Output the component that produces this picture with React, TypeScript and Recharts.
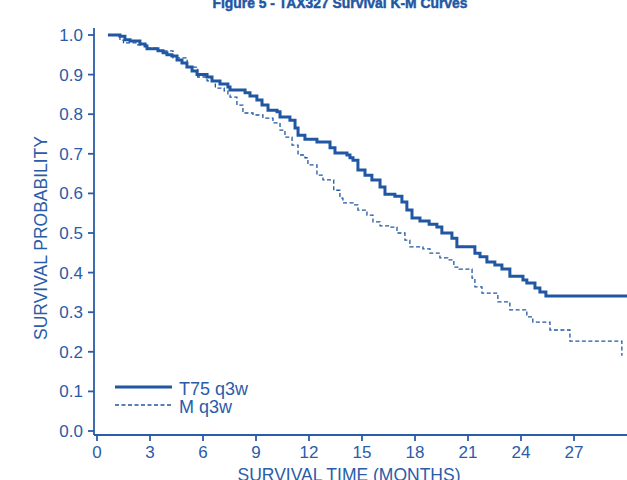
import React from 'react';
import { LineChart, Line, XAxis, YAxis, Legend, Label } from 'recharts';

// Kaplan-Meier estimates (months, survival probability)
const t75Times = [0.62, 1.3, 1.58, 1.87, 2.43, 2.72, 2.83, 3.45, 3.74, 3.96, 4.24, 4.53, 4.81, 5.09, 5.38, 5.66, 6.23, 6.51, 6.96, 7.41, 7.53, 8.38, 8.66, 9.05, 9.34, 9.68, 10.19, 10.36, 10.92, 11.21, 11.38, 11.77, 12.45, 13.19, 13.47, 14.15, 14.32, 14.49, 14.77, 15.17, 15.56, 16.02, 16.3, 16.86, 17.26, 17.54, 17.83, 18.28, 18.8, 19.24, 19.52, 20.09, 20.37, 21.39, 21.68, 22.07, 22.52, 22.92, 23.37, 24.11, 24.33, 24.79, 25.07, 25.41, 30];
const t75Surv = [1.0, 0.997, 0.988, 0.985, 0.977, 0.972, 0.965, 0.96, 0.955, 0.95, 0.947, 0.937, 0.929, 0.919, 0.909, 0.9, 0.894, 0.884, 0.876, 0.869, 0.861, 0.854, 0.846, 0.836, 0.823, 0.81, 0.806, 0.793, 0.785, 0.765, 0.747, 0.737, 0.73, 0.715, 0.702, 0.697, 0.69, 0.684, 0.659, 0.646, 0.634, 0.616, 0.598, 0.593, 0.578, 0.558, 0.538, 0.53, 0.522, 0.515, 0.5, 0.487, 0.465, 0.449, 0.44, 0.427, 0.419, 0.409, 0.391, 0.381, 0.374, 0.361, 0.351, 0.341, 0.341];

const mTimes = [0.62, 1.3, 1.5, 2.2, 2.8, 3.5, 4.3, 5.1, 5.7, 6.23, 6.7, 7.2, 7.41, 7.53, 7.92, 8.26, 8.83, 9.39, 9.96, 10.36, 10.64, 11.04, 11.38, 11.77, 11.94, 12.45, 12.79, 13.4, 13.75, 13.92, 14.49, 14.77, 15.28, 15.62, 16.02, 16.58, 16.98, 17.43, 17.71, 18.45, 18.85, 19.41, 19.85, 20.2, 20.5, 21.23, 21.39, 21.79, 22.69, 23.37, 24.33, 24.67, 25.64, 26.77, 29.71];
const mSurv = [1.0, 0.987, 0.98, 0.975, 0.967, 0.96, 0.942, 0.919, 0.894, 0.884, 0.866, 0.859, 0.848, 0.843, 0.823, 0.803, 0.798, 0.79, 0.778, 0.76, 0.742, 0.722, 0.697, 0.69, 0.672, 0.646, 0.634, 0.608, 0.588, 0.576, 0.571, 0.558, 0.545, 0.528, 0.518, 0.515, 0.5, 0.482, 0.465, 0.46, 0.449, 0.437, 0.432, 0.414, 0.409, 0.386, 0.364, 0.348, 0.326, 0.306, 0.288, 0.275, 0.255, 0.227, 0.19];

const xTicks = [0, 3, 6, 9, 12, 15, 18, 21, 24, 27];
const yTicks = [0, 0.1, 0.2, 0.3, 0.4, 0.5, 0.6, 0.7, 0.8, 0.9, 1.0];

const t75Data = t75Times.map((t, i) => ({ t, s: t75Surv[i] }));
const mData = mTimes.map((t, i) => ({ t, s: mSurv[i] }));

const BLUE = '#1f57a3';
const TEXT = '#2a5ca8';
const FONT = '"Liberation Sans", Arial, sans-serif';

const renderLegend = () => (
  <svg width={160} height={50}>
    <line x1={5} x2={62} y1={17} y2={17} stroke={BLUE} strokeWidth={3} />
    <text x={69} y={25} fill={TEXT} fontSize={18} fontFamily={FONT}>T75 q3w</text>
    <line x1={5} x2={62} y1={35} y2={35} stroke={BLUE} strokeWidth={1.3} strokeDasharray="4 2.5" />
    <text x={69} y={43} fill={TEXT} fontSize={18} fontFamily={FONT}>M q3w</text>
  </svg>
);

export default function App() {
  return (
    <div style={{ position: 'absolute', left: 0, top: 0, width: 627, height: 480, background: '#fff', overflow: 'hidden' }}>
      <svg width={627} height={20} style={{ position: 'absolute', left: 0, top: 0 }}>
        <text x={340} y={7.5} textAnchor="middle" fill={BLUE} stroke={BLUE} strokeWidth={0.5} fontSize={15} fontWeight="bold" fontFamily={FONT} textLength={255} lengthAdjust="spacingAndGlyphs">
          Figure 5 - TAX327 Survival K-M Curves
        </text>
      </svg>
      <LineChart width={627} height={480} margin={{ top: 28, right: 0, bottom: 5, left: 0 }}>
        <XAxis
          type="number"
          dataKey="t"
          domain={[0, 30]}
          ticks={xTicks}
          allowDataOverflow
          padding={{ left: 3, right: 0 }}
          height={40}
          stroke={TEXT}
          strokeWidth={1.8}
          tickSize={6}
          tickMargin={5}
          tick={{ fill: TEXT, fontSize: 17, fontFamily: FONT }}
          interval={0}
        >
          <Label
            content={() => (
              <text x={349} y={481} textAnchor="middle" fill={TEXT} fontSize={17.5} fontFamily={FONT}>
                SURVIVAL TIME (MONTHS)
              </text>
            )}
          />
        </XAxis>
        <YAxis
          type="number"
          domain={[0, 1]}
          ticks={yTicks}
          padding={{ top: 7, bottom: 4 }}
          width={94}
          stroke={TEXT}
          strokeWidth={1.8}
          tickSize={6}
          tickMargin={5}
          tick={{ fill: TEXT, fontSize: 17, fontFamily: FONT }}
          tickFormatter={(v: number) => v.toFixed(1)}
          interval={0}
        >
          <Label
            content={() => (
              <text x={47} y={238} transform="rotate(-90 47 238)" textAnchor="middle" fill={TEXT} fontSize={17.5} fontFamily={FONT}>
                SURVIVAL PROBABILITY
              </text>
            )}
          />
        </YAxis>
        <Legend
          layout="vertical"
          align="center"
          verticalAlign="middle"
          content={renderLegend}
          wrapperStyle={{ left: 110, top: 370, width: 160, height: 50 }}
        />
        <Line
          data={mData}
          dataKey="s"
          name="M q3w"
          type="stepAfter"
          stroke={BLUE}
          strokeWidth={1.3}
          strokeDasharray="4 2.5"
          dot={false}
          activeDot={false}
          isAnimationActive={false}
        />
        <Line
          data={t75Data}
          dataKey="s"
          name="T75 q3w"
          type="stepAfter"
          stroke={BLUE}
          strokeWidth={3}
          dot={false}
          activeDot={false}
          isAnimationActive={false}
        />
      </LineChart>
    </div>
  );
}
